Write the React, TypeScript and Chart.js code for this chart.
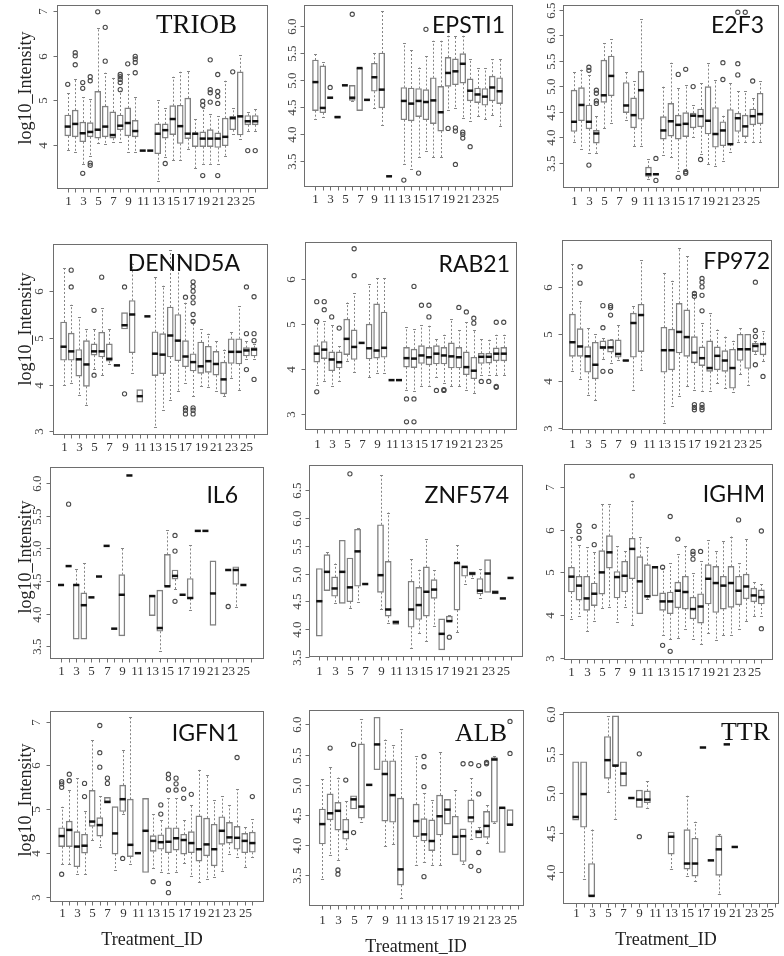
import React, { useEffect, useRef } from "react";
import { Chart, registerables } from "chart.js";
Chart.register(...registerables);

const W = 784;
const H = 956;

// Treatment IDs (x categories)
const TREATMENTS = [1, 2, 3, 4, 5, 6, 7, 8, 9, 10, 11, 12, 13, 14, 15, 16, 17, 18, 19, 20, 21, 22, 23, 24, 25, 26];
const X_TICK_LABELS = ["1", "", "3", "", "5", "", "7", "", "9", "", "11", "", "13", "", "15", "", "17", "", "19", "", "21", "", "23", "", "25", ""];

// Box stats per treatment: [lowWhisker, q1, median, q3, highWhisker]
const TRIOB_BOX = [
  [3.88, 4.2, 4.41, 4.67, 5.17], [3.83, 4.18, 4.47, 4.78, 5.49], [3.56, 4.07, 4.26, 4.51, 5.07], [3.76, 4.18, 4.29, 4.5, 5.02],
  [4.03, 4.15, 4.34, 5.2, 6.62], [4.01, 4.18, 4.41, 4.87, 5.62], [4.07, 4.15, 4.22, 4.74, 5.51], [4.07, 4.34, 4.43, 4.67, 5.22],
  [3.83, 4.2, 4.49, 4.83, 5.6], [3.83, 4.18, 4.31, 4.55, 5.07], [3.87, 3.87, 3.87, 3.87, 3.87], [3.87, 3.87, 3.87, 3.87, 3.87],
  [3.18, 3.8, 4.25, 4.47, 5.0], [3.72, 4.15, 4.33, 4.47, 4.83], [3.65, 4.23, 4.58, 4.88, 5.53], [3.65, 4.03, 4.42, 4.89, 5.64],
  [3.91, 4.14, 4.25, 5.05, 5.66], [3.47, 3.96, 4.25, 4.27, 4.58], [3.58, 3.96, 4.14, 4.29, 4.82], [3.58, 3.96, 4.14, 4.34, 4.69],
  [3.58, 3.94, 4.14, 4.27, 4.64], [3.76, 3.98, 4.18, 4.6, 5.44], [4.25, 4.34, 4.6, 4.64, 4.82], [4.12, 4.22, 4.64, 5.64, 6.02],
  [4.31, 4.45, 4.53, 4.66, 4.74], [4.31, 4.45, 4.53, 4.66, 4.8],
];
const TRIOB_OUT = [
  [1, 5.36], [2, 6.07], [2, 6.0], [2, 5.8], [3, 5.4], [3, 5.27], [3, 3.36], [4, 5.53], [4, 5.44], [4, 3.59], [4, 3.54],
  [5, 6.99], [6, 5.88], [6, 6.64], [8, 5.58], [8, 5.53], [8, 5.47], [8, 5.4], [8, 5.24], [9, 5.82], [10, 5.99], [10, 5.93],
  [10, 5.85], [10, 5.62], [14, 3.58], [19, 4.98], [19, 4.89], [19, 3.31], [20, 5.91], [20, 5.24], [20, 5.17], [20, 4.96],
  [21, 5.58], [21, 5.2], [21, 5.09], [21, 4.93], [21, 3.31], [23, 5.64], [25, 3.87], [26, 3.87],
];

const EPSTI1_BOX = [
  [4.27, 4.43, 4.96, 5.37, 5.49], [4.31, 4.39, 4.48, 5.26, 5.33], [4.67, 4.67, 4.67, 4.67, 4.67], [4.29, 4.29, 4.31, 4.33, 4.33],
  [4.9, 4.9, 4.9, 4.9, 4.9], [4.6, 4.62, 4.67, 4.9, 4.9], [4.43, 4.43, 5.22, 5.22, 5.22], [4.63, 4.63, 4.63, 4.63, 4.63],
  [4.47, 4.79, 5.05, 5.31, 5.5], [4.17, 4.48, 4.82, 5.5, 6.28], [3.21, 3.21, 3.21, 3.21, 3.21], null,
  [3.44, 4.26, 4.61, 4.86, 5.68], [3.35, 4.24, 4.56, 4.85, 5.56], [3.56, 4.32, 4.61, 4.84, 5.23], [3.68, 4.26, 4.59, 4.82, 5.44],
  [3.56, 4.19, 4.62, 5.04, 5.73], [3.56, 4.05, 4.4, 4.88, 5.73], [4.45, 4.88, 5.13, 5.42, 5.82], [4.48, 4.91, 5.16, 5.39, 5.82],
  [4.29, 4.94, 5.3, 5.49, 5.82], [4.24, 4.61, 4.8, 5.02, 5.39], [4.33, 4.58, 4.73, 4.85, 5.22], [4.27, 4.53, 4.69, 4.84, 5.22],
  [4.34, 4.61, 4.86, 5.07, 5.39], [4.15, 4.56, 4.79, 5.04, 5.39],
];
const EPSTI1_OUT = [
  [3, 4.86], [6, 6.22], [13, 3.14], [15, 3.27], [16, 5.94], [19, 4.1], [20, 4.11], [20, 4.05], [20, 3.43], [21, 4.03],
  [21, 3.99], [21, 3.92], [22, 3.76],
];

const E2F3_BOX = [
  [3.9, 4.11, 4.3, 4.92, 5.28], [3.77, 4.32, 4.63, 4.97, 5.32], [3.69, 4.16, 4.3, 4.63, 5.22], [3.69, 3.88, 4.07, 4.13, 4.42],
  [4.17, 4.68, 4.82, 5.51, 5.84], [4.27, 4.81, 5.2, 5.59, 5.92], null, [4.34, 4.48, 4.62, 5.07, 5.28],
  [3.82, 4.18, 4.43, 4.77, 5.1], [3.82, 4.35, 4.92, 5.29, 6.31], [3.18, 3.23, 3.27, 3.41, 3.57], [3.26, 3.26, 3.27, 3.28, 3.28],
  [3.64, 3.96, 4.13, 4.4, 4.99], [3.6, 4.02, 4.31, 4.66, 5.46], [3.34, 3.96, 4.24, 4.43, 4.97], [3.36, 4.01, 4.26, 4.48, 5.02],
  [4.01, 4.18, 4.42, 4.47, 4.63], [3.67, 4.2, 4.41, 4.55, 5.07], [3.47, 4.06, 4.32, 4.99, 5.46], [3.43, 3.8, 4.06, 4.58, 5.12],
  [3.54, 3.83, 4.13, 4.3, 4.42], [3.7, 3.86, 3.86, 4.54, 5.07], [3.91, 4.11, 4.37, 4.47, 4.9], [3.91, 4.01, 4.21, 4.43, 4.9],
  [3.91, 4.24, 4.41, 4.55, 4.77], [3.91, 4.26, 4.45, 4.86, 5.1],
];
const E2F3_OUT = [
  [3, 5.37], [3, 5.31], [3, 3.45], [4, 4.92], [4, 4.86], [4, 4.71], [4, 4.66], [12, 3.58], [12, 3.15], [15, 5.23], [15, 3.21],
  [16, 5.33], [16, 3.32], [16, 3.29], [17, 4.99], [18, 3.56], [21, 5.46], [21, 5.13], [23, 6.45], [23, 5.44], [23, 5.22],
  [24, 6.45], [25, 5.1],
];

const DENND5A_BOX = [
  [3.99, 4.52, 4.81, 5.34, 6.49], [4.04, 4.52, 4.71, 5.1, 5.71], [3.77, 4.18, 4.54, 4.75, 5.44], [3.56, 3.96, 4.43, 4.94, 5.18],
  [4.34, 4.63, 4.71, 4.87, 5.18], [4.2, 4.59, 4.71, 5.12, 5.63], [4.44, 4.5, 4.55, 4.87, 5.18], [4.4, 4.4, 4.41, 4.42, 4.42],
  [5.19, 5.19, 5.27, 5.54, 5.54], [4.25, 4.68, 5.5, 5.8, 6.59], [3.62, 3.62, 3.75, 3.89, 3.89], [5.46, 5.46, 5.46, 5.46, 5.46],
  [3.09, 4.19, 4.66, 5.13, 6.3], [3.46, 4.23, 4.64, 5.09, 6.12], [3.66, 4.59, 5.05, 5.66, 6.88], [3.87, 4.51, 4.94, 5.5, 6.79],
  [4.04, 4.38, 4.6, 4.94, 5.75], [3.76, 4.29, 4.48, 4.66, 5.34], [3.96, 4.24, 4.39, 4.91, 5.18], [3.94, 4.26, 4.5, 4.82, 5.09],
  [3.86, 4.2, 4.44, 4.71, 4.94], [3.75, 3.8, 4.11, 4.48, 4.75], [4.14, 4.45, 4.7, 4.98, 5.13], [3.89, 4.44, 4.7, 4.98, 5.68],
  [4.54, 4.61, 4.73, 4.79, 4.93], [4.54, 4.61, 4.75, 4.79, 4.86],
];
const DENND5A_OUT = [
  [2, 6.45], [2, 6.09], [5, 5.59], [5, 4.2], [6, 6.3], [9, 6.09], [9, 3.8], [17, 5.87], [17, 3.5], [17, 3.45], [17, 3.37],
  [18, 6.2], [18, 6.1], [18, 6.0], [18, 5.87], [18, 5.75], [18, 5.5], [18, 5.35], [18, 3.5], [18, 3.45], [18, 3.37],
  [25, 6.09], [25, 5.09], [25, 4.32], [26, 5.88], [26, 5.09], [26, 4.94], [26, 4.11],
];

const RAB21_BOX = [
  [3.65, 4.15, 4.34, 4.52, 5.02], [3.72, 4.23, 4.43, 4.61, 5.07], [3.61, 3.96, 4.21, 4.38, 4.97], [3.74, 4.02, 4.15, 4.38, 4.5],
  [4.18, 4.32, 4.67, 5.11, 5.48], [3.93, 4.21, 4.49, 4.87, 5.69], [4.58, 4.58, 4.58, 4.58, 4.58], [3.82, 4.22, 4.46, 5.0, 5.89],
  [3.91, 4.24, 4.41, 5.45, 6.02], [3.91, 4.26, 4.47, 5.27, 6.02], [3.75, 3.75, 3.75, 3.75, 3.75], [3.75, 3.75, 3.75, 3.75, 3.75],
  [3.52, 4.04, 4.24, 4.48, 4.93], [3.5, 4.03, 4.23, 4.44, 4.89], [3.63, 4.12, 4.3, 4.52, 4.97], [3.63, 4.09, 4.26, 4.48, 4.96],
  [3.83, 4.11, 4.34, 4.52, 4.67], [3.69, 4.11, 4.3, 4.48, 4.76], [3.61, 4.02, 4.28, 4.58, 5.11], [3.61, 4.02, 4.26, 4.48, 4.87],
  [3.54, 3.87, 4.04, 4.38, 5.04], [3.46, 3.78, 3.96, 4.26, 4.87], [3.87, 4.12, 4.27, 4.35, 4.67], [3.87, 4.13, 4.27, 4.35, 4.65],
  [3.87, 4.18, 4.34, 4.47, 4.76], [3.87, 4.18, 4.34, 4.48, 4.76],
];
const RAB21_OUT = [
  [1, 5.5], [1, 5.06], [1, 3.49], [2, 5.5], [2, 5.32], [3, 5.16], [4, 4.91], [6, 6.68], [6, 6.08], [13, 3.33], [13, 2.82],
  [14, 5.84], [14, 3.33], [14, 2.82], [15, 5.42], [16, 5.42], [16, 5.16], [17, 3.52], [18, 3.54], [18, 3.52], [20, 5.37],
  [21, 5.27], [22, 5.13], [22, 5.02], [23, 3.72], [24, 3.72], [25, 5.04], [25, 3.61], [25, 3.59], [26, 5.04],
];

const FP972_BOX = [
  [4.2, 4.52, 4.82, 5.42, 6.48], [4.04, 4.52, 4.73, 5.11, 5.7], [3.69, 4.18, 4.52, 4.73, 5.13], [3.58, 4.04, 4.34, 4.82, 4.99],
  [4.46, 4.68, 4.71, 4.85, 4.91], [4.38, 4.61, 4.71, 4.87, 4.89], [4.45, 4.5, 4.57, 4.87, 5.19], [4.42, 4.42, 4.43, 4.44, 4.44],
  [3.81, 4.5, 5.23, 5.44, 5.6], [4.23, 4.62, 5.4, 5.63, 6.57], null, null,
  [3.1, 4.18, 4.65, 5.14, 6.29], [3.45, 4.23, 4.65, 5.1, 6.13], [3.67, 4.59, 5.04, 5.65, 6.84], [3.88, 4.52, 4.93, 5.51, 6.66],
  [3.81, 4.38, 4.6, 4.94, 5.89], [3.79, 4.32, 4.48, 4.72, 5.23], [3.79, 4.2, 4.27, 4.85, 5.45], [3.95, 4.23, 4.53, 4.72, 5.09],
  [3.84, 4.2, 4.43, 4.64, 4.94], [3.76, 3.84, 4.27, 4.67, 4.85], [4.14, 4.43, 4.67, 4.99, 5.12], [3.9, 4.26, 4.67, 4.99, 4.99],
  [4.57, 4.62, 4.74, 4.8, 4.85], [4.41, 4.55, 4.78, 4.8, 5.06],
];
const FP972_OUT = [
  [2, 6.43], [2, 6.08], [5, 5.6], [5, 5.13], [5, 4.2], [6, 5.6], [6, 5.56], [6, 5.4], [6, 4.2], [17, 5.86], [17, 5.8],
  [17, 3.49], [17, 3.43], [17, 3.38], [18, 6.18], [18, 6.1], [18, 6.0], [18, 5.82], [18, 5.49], [18, 3.49], [18, 3.43],
  [18, 3.38], [25, 6.1], [25, 5.07], [25, 4.94], [25, 4.34], [26, 4.09],
];

const IL6_BOX = [
  [4.44, 4.44, 4.44, 4.44, 4.44], [4.73, 4.73, 4.73, 4.73, 4.73], [3.61, 3.61, 4.44, 4.45, 4.69], [3.61, 3.61, 4.13, 4.32, 4.77],
  [4.25, 4.25, 4.25, 4.25, 4.25], [4.57, 4.57, 4.57, 4.57, 4.57], [5.04, 5.04, 5.04, 5.04, 5.04], [3.77, 3.77, 3.77, 3.77, 3.77],
  [3.66, 3.66, 4.29, 4.6, 5.0], [6.12, 6.12, 6.12, 6.12, 6.12], null, null,
  [3.97, 3.97, 4.27, 4.28, 4.28], [3.42, 3.73, 3.78, 4.36, 4.36], [4.42, 4.42, 4.42, 4.91, 5.28], [4.38, 4.53, 4.58, 4.67, 4.67],
  [4.29, 4.29, 4.29, 4.29, 4.29], [4.06, 4.23, 4.24, 4.54, 5.05], [5.27, 5.27, 5.27, 5.27, 5.27], [5.27, 5.27, 5.27, 5.27, 5.27],
  [3.82, 3.82, 4.31, 4.81, 4.81], null, [4.67, 4.67, 4.67, 4.67, 4.67], [4.11, 4.45, 4.67, 4.72, 4.72],
  [4.44, 4.44, 4.44, 4.44, 4.44], null,
];
const IL6_OUT = [[2, 5.68], [16, 5.2], [16, 4.96], [16, 4.19], [23, 4.11]];

const ZNF574_BOX = [
  [3.87, 3.87, 4.5, 5.09, 5.09], [4.69, 4.69, 5.03, 5.34, 5.39], [4.46, 4.59, 4.73, 4.94, 5.18], [4.46, 4.46, 5.03, 5.6, 5.6],
  [4.38, 4.49, 4.75, 5.28, 5.28], [4.49, 4.77, 5.4, 5.8, 5.82], [4.81, 4.81, 4.81, 4.81, 4.81], null,
  [4.35, 4.66, 4.97, 5.88, 6.78], [4.11, 4.23, 4.35, 5.22, 6.1], [4.08, 4.08, 4.12, 4.15, 4.15], null,
  [3.66, 4.03, 4.35, 4.86, 5.27], [3.93, 4.17, 4.43, 4.75, 5.07], [3.78, 4.23, 4.67, 5.12, 5.62], [4.06, 4.55, 4.71, 4.89, 5.06],
  [3.62, 3.62, 3.91, 4.18, 4.18], [4.14, 4.14, 4.14, 4.23, 4.25], [3.94, 4.34, 5.19, 5.19, 5.51], [4.81, 4.95, 5.12, 5.12, 5.12],
  [4.91, 4.97, 5.0, 5.03, 5.03], [4.55, 4.63, 4.69, 4.91, 5.08], [4.66, 4.66, 5.0, 5.25, 5.25], [4.63, 4.63, 4.66, 4.69, 4.69],
  [4.55, 4.55, 4.55, 4.55, 4.55], [4.92, 4.92, 4.92, 4.92, 4.92],
];
const ZNF574_OUT = [[5, 6.8], [18, 3.85]];

const IGHM_BOX = [
  [3.91, 4.54, 4.9, 5.12, 5.82], [3.97, 4.35, 4.69, 4.91, 5.65], [3.62, 4.11, 4.39, 4.91, 5.59], [3.85, 4.22, 4.5, 4.75, 5.47],
  [4.17, 4.49, 5.0, 5.51, 6.6], [4.18, 5.1, 5.47, 5.86, 6.61], [3.84, 4.4, 4.89, 5.02, 5.61], [4.2, 4.54, 4.92, 5.26, 5.49],
  [3.76, 4.85, 5.55, 5.8, 6.68], [4.03, 4.03, 4.79, 5.37, 5.84], [4.38, 4.42, 4.44, 5.18, 5.59], [4.45, 4.45, 5.12, 5.14, 5.14],
  [3.54, 4.11, 4.32, 4.52, 5.1], [3.43, 4.03, 4.32, 4.54, 5.22], [3.46, 4.17, 4.57, 4.77, 5.43], [3.68, 4.14, 4.54, 4.91, 5.61],
  [3.43, 3.91, 4.14, 4.42, 4.98], [3.31, 3.81, 4.2, 4.5, 5.26], [3.58, 4.26, 4.85, 5.18, 5.75], [3.41, 4.06, 4.75, 5.14, 5.49],
  [3.53, 4.14, 4.69, 4.91, 5.73], [3.53, 4.18, 4.75, 5.14, 5.84], [3.68, 4.24, 4.57, 4.91, 5.22], [3.85, 4.38, 4.67, 4.96, 5.78],
  [3.97, 4.31, 4.46, 4.63, 4.77], [3.97, 4.26, 4.42, 4.59, 4.73],
];
const IGHM_OUT = [
  [2, 6.1], [2, 5.96], [2, 5.8], [4, 6.08], [4, 5.65], [9, 7.26], [13, 5.12], [13, 3.29], [14, 6.31], [14, 3.15], [15, 5.78],
  [17, 5.49], [17, 5.43], [17, 5.31], [18, 5.49], [23, 6.23], [26, 5.97], [26, 3.68],
];

const IGFN1_BOX = [
  [3.75, 4.15, 4.39, 4.58, 5.06], [3.75, 4.15, 4.53, 4.73, 5.44], [3.52, 3.69, 4.15, 4.49, 5.71], [3.52, 4.0, 4.17, 4.43, 4.95],
  [4.29, 4.61, 4.72, 5.43, 6.59], [4.13, 4.39, 4.64, 4.81, 5.3], [5.14, 5.14, 5.17, 5.27, 5.27], [3.62, 3.98, 4.45, 5.06, 5.06],
  [4.9, 4.95, 5.23, 5.55, 6.35], [3.76, 3.92, 4.19, 5.23, 7.11], [4.0, 4.0, 4.0, 4.0, 4.0], [3.56, 3.56, 4.51, 5.25, 5.25],
  [3.66, 4.04, 4.28, 4.4, 4.89], [3.58, 4.09, 4.25, 4.42, 4.76], [3.54, 4.01, 4.26, 4.58, 5.25], [3.58, 4.07, 4.34, 4.58, 5.25],
  [3.77, 3.98, 4.3, 4.43, 4.76], [3.47, 4.01, 4.23, 4.49, 5.1], [3.34, 3.82, 4.09, 4.85, 5.9], [3.41, 3.94, 4.2, 4.8, 5.78],
  [3.45, 3.71, 4.09, 4.66, 5.21], [3.6, 4.2, 4.51, 4.83, 5.3], [3.98, 4.23, 4.36, 4.7, 5.1], [3.92, 4.09, 4.35, 4.61, 5.46],
  [3.69, 4.01, 4.28, 4.45, 4.59], [3.92, 4.02, 4.23, 4.48, 4.77],
];
const IGFN1_OUT = [
  [1, 5.63], [1, 5.58], [1, 5.5], [1, 3.52], [2, 5.8], [2, 5.65], [4, 5.59], [4, 5.29], [6, 6.91], [6, 6.29], [6, 5.96],
  [7, 5.71], [7, 5.59], [9, 3.88], [13, 3.35], [14, 5.1], [14, 4.89], [15, 5.8], [15, 5.7], [15, 5.44], [15, 3.31], [15, 3.1],
  [16, 5.71], [16, 5.58], [16, 5.44], [17, 5.46], [17, 5.25], [18, 5.34], [24, 6.18], [26, 5.29],
];

const ALB_BOX = [
  [3.44, 4.02, 4.35, 4.6, 5.09], [3.84, 4.42, 4.53, 4.85, 5.3], [3.76, 4.25, 4.57, 4.71, 5.12], [3.93, 4.1, 4.22, 4.43, 4.74],
  [4.6, 4.6, 4.76, 4.82, 4.82], [4.39, 4.45, 4.64, 5.68, 6.09], [5.0, 5.0, 5.0, 5.0, 5.0], [5.25, 5.25, 5.67, 6.12, 6.12],
  [3.98, 4.4, 5.18, 5.4, 5.75], [4.02, 4.38, 4.83, 5.4, 5.66], [3.13, 3.34, 3.6, 4.78, 5.92], null,
  [3.67, 4.14, 4.4, 4.68, 5.47], [3.73, 4.07, 4.18, 4.44, 4.86], [3.67, 3.91, 4.07, 4.42, 4.75], [3.67, 4.17, 4.48, 4.83, 5.54],
  [4.35, 4.35, 4.59, 4.76, 4.76], [3.84, 3.84, 4.14, 4.48, 4.92], [3.69, 3.73, 4.15, 4.27, 4.27], [4.1, 4.38, 4.46, 4.75, 5.11],
  [4.12, 4.12, 4.22, 4.25, 4.31], [4.03, 4.13, 4.32, 4.56, 4.67], [4.36, 4.38, 5.42, 5.45, 5.48], [3.88, 3.88, 4.62, 4.62, 4.62],
  [4.34, 4.34, 4.34, 4.59, 4.59], null,
];
const ALB_OUT = [
  [2, 5.61], [3, 3.59], [3, 3.52], [4, 5.08], [5, 5.67], [5, 4.21], [14, 5.47], [14, 5.3], [14, 4.97], [14, 3.48],
  [19, 5.35], [20, 5.35], [20, 3.65], [21, 5.32], [21, 4.85], [21, 3.88], [21, 3.58], [22, 5.37], [22, 5.35], [25, 6.05], [25, 5.52],
];

const TTR_BOX = [
  [4.66, 4.66, 4.7, 5.4, 5.4], [3.91, 4.57, 4.99, 5.4, 5.4], [3.7, 3.7, 3.7, 4.11, 4.54], null,
  [5.02, 5.19, 5.42, 5.72, 5.98], [4.68, 5.35, 5.35, 5.98, 5.98], [5.09, 5.09, 5.25, 5.4, 5.4], [4.94, 4.94, 4.94, 4.94, 4.94],
  [4.82, 4.82, 4.92, 5.04, 5.04], [4.82, 4.88, 4.92, 5.03, 5.15], null, null,
  [4.04, 4.23, 4.45, 4.51, 4.51], null, [3.95, 4.04, 4.11, 4.54, 4.97], [3.89, 3.95, 4.11, 4.43, 4.64],
  [5.58, 5.58, 5.58, 5.58, 5.58], [4.15, 4.15, 4.15, 4.15, 4.15], [3.73, 3.96, 4.29, 4.46, 4.49], [5.62, 5.62, 5.62, 5.62, 5.62],
  [4.32, 4.32, 4.32, 4.32, 4.32], null, null, null, null, null,
];
const TTR_OUT = [[9, 5.5], [9, 4.45]];

// y-axis tick values
const TICKS_INT_3_6 = [3, 4, 5, 6];
const TICKS_INT_3_7 = [3, 4, 5, 6, 7];
const TICKS_INT_4_7 = [4, 5, 6, 7];
const TICKS_35_60 = [3.5, 4.0, 4.5, 5.0, 5.5, 6.0];
const TICKS_35_65 = [3.5, 4.0, 4.5, 5.0, 5.5, 6.0, 6.5];
const TICKS_40_60 = [4.0, 4.5, 5.0, 5.5, 6.0];

type Panel = {
  name: string;
  stats: (number[] | null)[];
  out: number[][];
  ticks: number[];
  dec: number;
  frame: [number, number, number, number];
  xr: [number, number];
  yr: [number, number];
  serif: boolean;
  tRight: number;
  tY: number;
  tSize: number;
  lblOff: number;
  yLblOff: number;
  yTitle?: number;
  xTitle?: [number, number];
};

const PANELS: Panel[] = [
  { name: "TRIOB", stats: TRIOB_BOX, out: TRIOB_OUT, ticks: TICKS_INT_4_7, dec: 0, frame: [57, 1, 267, 188], xr: [-0.43, 27.57], yr: [3.03, 7.14], serif: true, tRight: 237, tY: 26, tSize: 27, lblOff: 14, yLblOff: 13, yTitle: 88 },
  { name: "EPSTI1", stats: EPSTI1_BOX, out: EPSTI1_OUT, ticks: TICKS_35_60, dec: 1, frame: [304, 3, 512, 186], xr: [-0.55, 27.68], yr: [3.03, 6.39], serif: false, tRight: 505, tY: 26, tSize: 23, lblOff: 14, yLblOff: 11 },
  { name: "E2F3", stats: E2F3_BOX, out: E2F3_OUT, ticks: TICKS_35_65, dec: 1, frame: [563, 4, 778, 187], xr: [-0.48, 28.4], yr: [3.02, 6.59], serif: false, tRight: 764, tY: 26, tSize: 23, lblOff: 15, yLblOff: 11 },
  { name: "DENND5A", stats: DENND5A_BOX, out: DENND5A_OUT, ticks: TICKS_INT_3_6, dec: 0, frame: [53, 244, 267, 434], xr: [-0.39, 27.7], yr: [2.94, 7.01], serif: false, tRight: 240, tY: 264, tSize: 23, lblOff: 14, yLblOff: 13, yTitle: 329 },
  { name: "RAB21", stats: RAB21_BOX, out: RAB21_OUT, ticks: TICKS_INT_3_6, dec: 0, frame: [305, 242, 516, 429], xr: [-0.57, 27.64], yr: [2.66, 6.83], serif: false, tRight: 510, tY: 265, tSize: 23, lblOff: 16, yLblOff: 13 },
  { name: "FP972", stats: FP972_BOX, out: FP972_OUT, ticks: TICKS_INT_3_6, dec: 0, frame: [562, 240, 771, 429], xr: [-0.37, 27.05], yr: [2.97, 7.0], serif: false, tRight: 770, tY: 262, tSize: 23, lblOff: 16, yLblOff: 13 },
  { name: "IL6", stats: IL6_BOX, out: IL6_OUT, ticks: TICKS_35_60, dec: 1, frame: [50, 467, 263, 658], xr: [-0.45, 27.58], yr: [3.32, 6.25], serif: false, tRight: 238, tY: 496, tSize: 23, lblOff: 14, yLblOff: 12, yTitle: 557 },
  { name: "ZNF574", stats: ZNF574_BOX, out: ZNF574_OUT, ticks: TICKS_35_65, dec: 1, frame: [309, 465, 522, 656], xr: [-0.35, 27.5], yr: [3.51, 6.96], serif: false, tRight: 509, tY: 496, tSize: 23, lblOff: 16, yLblOff: 11 },
  { name: "IGHM", stats: IGHM_BOX, out: IGHM_OUT, ticks: TICKS_INT_3_7, dec: 0, frame: [564, 464, 772, 659], xr: [0.02, 27.4], yr: [2.97, 7.54], serif: false, tRight: 765, tY: 495, tSize: 23, lblOff: 14, yLblOff: 13 },
  { name: "IGFN1", stats: IGFN1_BOX, out: IGFN1_OUT, ticks: TICKS_INT_3_7, dec: 0, frame: [50, 711, 263, 901], xr: [-0.53, 27.4], yr: [2.91, 7.24], serif: false, tRight: 239, tY: 734, tSize: 23, lblOff: 13, yLblOff: 13, yTitle: 800, xTitle: [152, 940] },
  { name: "ALB", stats: ALB_BOX, out: ALB_OUT, ticks: TICKS_35_60, dec: 1, frame: [309, 710, 523, 905], xr: [-0.7, 26.66], yr: [3.01, 6.24], serif: true, tRight: 507, tY: 734, tSize: 26, lblOff: 16, yLblOff: 11, xTitle: [416, 947] },
  { name: "TTR", stats: TTR_BOX, out: TTR_OUT, ticks: TICKS_40_60, dec: 1, frame: [563, 712, 778, 903], xr: [-0.6, 26.44], yr: [3.61, 6.03], serif: true, tRight: 770, tY: 733, tSize: 26, lblOff: 11, yLblOff: 11, xTitle: [666, 940] },
];

const SERIF = '"Liberation Serif", "DejaVu Serif", serif';
const SANS = 'Lato, "Noto Sans", sans-serif';

function makePlugin(p: Panel) {
  return {
    id: "boxplot_" + p.name,
    beforeDatasetsDraw(chart: any) {
      const ctx = chart.ctx;
      const xs = chart.scales.x;
      const ys = chart.scales.y;
      const sp = Math.abs(xs.getPixelForValue(2) - xs.getPixelForValue(1));
      const capW = sp * 0.4;
      ctx.save();
      p.stats.forEach((s, i) => {
        if (!s) return;
        const x = Math.round(xs.getPixelForValue(TREATMENTS[i])) + 0.5;
        ctx.strokeStyle = "#858585";
        ctx.lineWidth = 1;
        if (s[4] > s[3]) {
          ctx.setLineDash([2, 2]);
          ctx.beginPath();
          ctx.moveTo(x, ys.getPixelForValue(s[3]));
          ctx.lineTo(x, ys.getPixelForValue(s[4]));
          ctx.stroke();
          ctx.setLineDash([]);
          ctx.beginPath();
          const yy = Math.round(ys.getPixelForValue(s[4])) + 0.5;
          ctx.moveTo(x - capW / 2, yy);
          ctx.lineTo(x + capW / 2, yy);
          ctx.stroke();
        }
        if (s[0] < s[1]) {
          ctx.setLineDash([2, 2]);
          ctx.beginPath();
          ctx.moveTo(x, ys.getPixelForValue(s[1]));
          ctx.lineTo(x, ys.getPixelForValue(s[0]));
          ctx.stroke();
          ctx.setLineDash([]);
          ctx.beginPath();
          const yy = Math.round(ys.getPixelForValue(s[0])) + 0.5;
          ctx.moveTo(x - capW / 2, yy);
          ctx.lineTo(x + capW / 2, yy);
          ctx.stroke();
        }
      });
      ctx.restore();
    },
    afterDatasetsDraw(chart: any) {
      const ctx = chart.ctx;
      const xs = chart.scales.x;
      const ys = chart.scales.y;
      const sp = Math.abs(xs.getPixelForValue(2) - xs.getPixelForValue(1));
      const bw = sp * 0.8;
      ctx.save();
      ctx.strokeStyle = "#111";
      ctx.lineWidth = 2.5;
      p.stats.forEach((s, i) => {
        if (!s) return;
        const x = xs.getPixelForValue(TREATMENTS[i]);
        const y = ys.getPixelForValue(s[2]);
        ctx.beginPath();
        ctx.moveTo(x - bw / 2, y);
        ctx.lineTo(x + bw / 2, y);
        ctx.stroke();
      });
      ctx.restore();
    },
    afterDraw(chart: any) {
      const ctx = chart.ctx;
      const xs = chart.scales.x;
      const ys = chart.scales.y;
      const a = chart.chartArea;
      ctx.save();
      ctx.strokeStyle = "#6e6e6e";
      ctx.lineWidth = 1;
      ctx.strokeRect(Math.round(a.left) + 0.5, Math.round(a.top) + 0.5, Math.round(a.right - a.left), Math.round(a.bottom - a.top));
      ctx.fillStyle = "#333";
      ctx.font = "13px " + SERIF;
      ctx.textAlign = "center";
      ctx.textBaseline = "middle";
      const yb = Math.round(a.bottom) + 0.5;
      TREATMENTS.forEach((t, i) => {
        const x = Math.round(xs.getPixelForValue(t)) + 0.5;
        ctx.beginPath();
        ctx.moveTo(x, yb);
        ctx.lineTo(x, yb + 4);
        ctx.stroke();
        if (X_TICK_LABELS[i]) ctx.fillText(X_TICK_LABELS[i], x, a.bottom + p.lblOff);
      });
      const xl = Math.round(a.left) + 0.5;
      p.ticks.forEach((v) => {
        const y = Math.round(ys.getPixelForValue(v)) + 0.5;
        ctx.beginPath();
        ctx.moveTo(xl, y);
        ctx.lineTo(xl - 4, y);
        ctx.stroke();
        ctx.save();
        ctx.translate(a.left - p.yLblOff, y);
        ctx.rotate(-Math.PI / 2);
        ctx.fillStyle = "#444";
        ctx.fillText(v.toFixed(p.dec), 0, 0);
        ctx.restore();
      });
      ctx.fillStyle = "#111";
      ctx.textAlign = "right";
      ctx.font = `${p.tSize}px ${p.serif ? SERIF : SANS}`;
      ctx.fillText(p.name, p.tRight, p.tY);
      ctx.font = "18px " + SERIF;
      ctx.fillStyle = "#222";
      ctx.textAlign = "center";
      if (p.yTitle !== undefined) {
        ctx.save();
        ctx.translate(26, p.yTitle);
        ctx.rotate(-Math.PI / 2);
        ctx.fillText("log10_Intensity", 0, 0);
        ctx.restore();
      }
      if (p.xTitle) ctx.fillText("Treatment_ID", p.xTitle[0], p.xTitle[1]);
      ctx.restore();
    },
  };
}

function buildChart(canvas: HTMLCanvasElement, p: Panel) {
  const [l, t, r, b] = p.frame;
  const sp = (r - l) / (p.xr[1] - p.xr[0]);
  const boxes = p.stats
    .map((s, i) => (s && s[3] > s[1] ? { x: TREATMENTS[i], y: [s[1], s[3]] } : null))
    .filter((d) => d !== null);
  const outliers = p.out.map(([tr, v]) => ({ x: tr, y: v }));
  return new Chart(canvas, {
    type: "scatter",
    data: {
      datasets: [
        {
          type: "bar",
          data: boxes as any,
          backgroundColor: "#ffffff",
          borderColor: "#808080",
          borderWidth: 1.4,
          borderSkipped: false,
          barThickness: sp * 0.8,
          grouped: false,
          order: 2,
        } as any,
        {
          type: "scatter",
          data: outliers,
          pointRadius: 2.1,
          pointBorderColor: "#4a4a4a",
          pointBackgroundColor: "rgba(0,0,0,0)",
          pointBorderWidth: 1.1,
          order: 1,
        } as any,
      ],
    },
    options: {
      responsive: false,
      animation: false,
      events: [],
      layout: { padding: { left: l, top: t, right: W - r, bottom: H - b } },
      scales: {
        x: { type: "linear", min: p.xr[0], max: p.xr[1], display: false, offset: false },
        y: { type: "linear", min: p.yr[0], max: p.yr[1], display: false, offset: false },
      },
      plugins: { legend: { display: false }, tooltip: { enabled: false } },
    } as any,
    plugins: [makePlugin(p)],
  });
}

export default function App() {
  const refs = useRef<(HTMLCanvasElement | null)[]>([]);
  useEffect(() => {
    const charts = PANELS.map((p, i) => buildChart(refs.current[i] as HTMLCanvasElement, p));
    return () => charts.forEach((c) => c.destroy());
  }, []);
  return (
    <div style={{ position: "fixed", left: 0, top: 0, width: W, height: H, background: "#fff", overflow: "hidden" }}>
      {PANELS.map((p, i) => (
        <canvas
          key={p.name}
          ref={(el) => {
            refs.current[i] = el;
          }}
          width={W}
          height={H}
          style={{ position: "absolute", left: 0, top: 0, width: W, height: H }}
        />
      ))}
    </div>
  );
}
